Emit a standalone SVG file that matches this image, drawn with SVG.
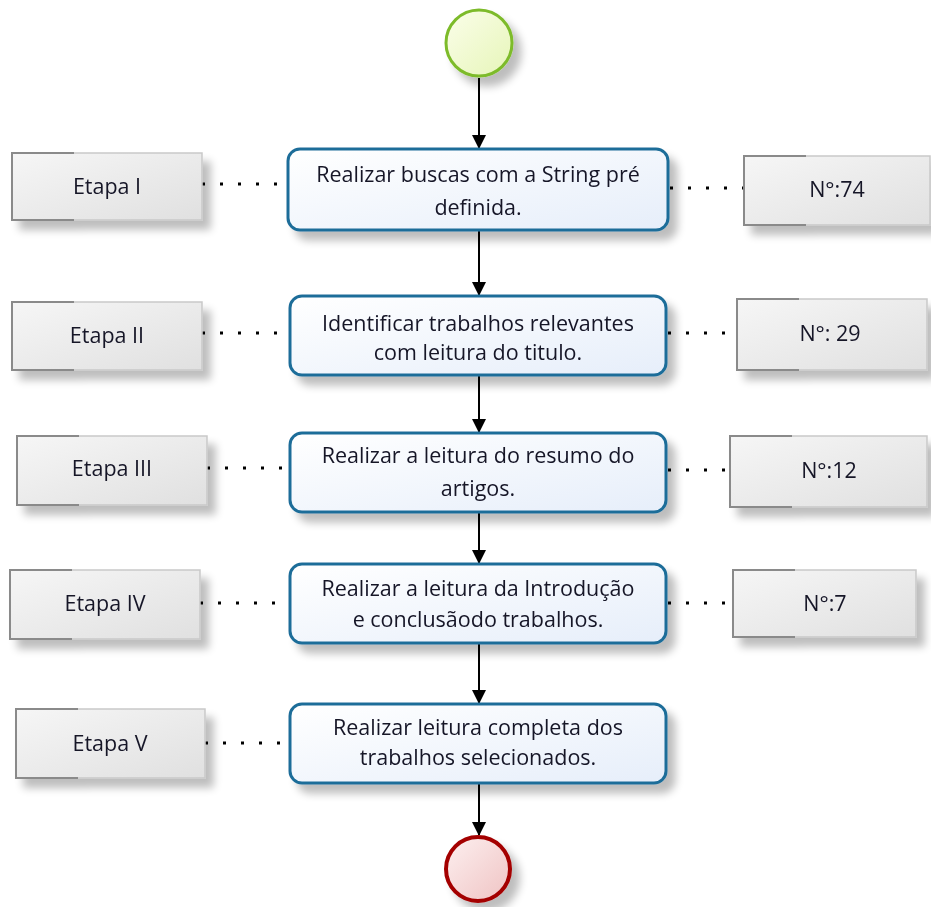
<svg xmlns="http://www.w3.org/2000/svg" width="931" height="907" viewBox="0 0 931 907">
<defs>
  <linearGradient id="gTask" x1="0" y1="0" x2="1" y2="1">
    <stop offset="0" stop-color="#ffffff"/>
    <stop offset="1" stop-color="#e6eefa"/>
  </linearGradient>
  <linearGradient id="gAnn" x1="0" y1="0" x2="1" y2="1">
    <stop offset="0" stop-color="#f6f6f6"/>
    <stop offset="1" stop-color="#e0e0e0"/>
  </linearGradient>
  <linearGradient id="gStart" x1="0" y1="0" x2="1" y2="1">
    <stop offset="0" stop-color="#fbfeea"/>
    <stop offset="1" stop-color="#e6f5b8"/>
  </linearGradient>
  <linearGradient id="gEnd" x1="0" y1="0" x2="1" y2="1">
    <stop offset="0" stop-color="#fdf0f0"/>
    <stop offset="1" stop-color="#efc3c3"/>
  </linearGradient>
  <filter id="shadow" x="-20%" y="-20%" width="150%" height="160%">
    <feGaussianBlur in="SourceAlpha" stdDeviation="4"/>
    <feOffset dx="8" dy="9" result="b"/>
    <feComponentTransfer><feFuncA type="linear" slope="0.26"/></feComponentTransfer>
    <feMerge><feMergeNode/><feMergeNode in="SourceGraphic"/></feMerge>
  </filter>
  <marker id="arrow" viewBox="0 0 14 14" refX="13" refY="7" markerWidth="14" markerHeight="14" markerUnits="userSpaceOnUse" orient="auto">
    <path d="M0,0 L14,7 L0,14 Z" fill="#000"/>
  </marker>
</defs>
<style>
  .task rect { fill: url(#gTask); stroke: #1f6d99; stroke-width: 3; }
  .ann rect { fill: url(#gAnn); stroke: #c9c9c9; stroke-width: 1.5; }
  .ann path { fill: none; stroke: #8a8a8a; stroke-width: 2; }
  text { font-family: "Open Sans", "Noto Sans", "DejaVu Sans", sans-serif; font-size: 21.5px; fill: #161628; text-anchor: middle; }
  .flow { stroke: #000; stroke-width: 2; fill: none; marker-end: url(#arrow); }
  .dot { stroke: #000; stroke-width: 3; stroke-dasharray: 3 15; fill: none; }
</style>

<g id="connectors">
  <line class="flow" x1="479" y1="78" x2="479" y2="148"/>
  <line class="flow" x1="479" y1="231" x2="479" y2="295"/>
  <line class="flow" x1="479" y1="376" x2="479" y2="432"/>
  <line class="flow" x1="479" y1="513" x2="479" y2="563"/>
  <line class="flow" x1="479" y1="644" x2="479" y2="703"/>
  <line class="flow" x1="479" y1="784" x2="479" y2="835"/>
  <line class="dot" x1="202" y1="184" x2="287" y2="184"/>
  <line class="dot" x1="670" y1="188" x2="743" y2="188"/>
  <line class="dot" x1="202" y1="333" x2="289" y2="333"/>
  <line class="dot" x1="668" y1="333" x2="737" y2="333"/>
  <line class="dot" x1="207" y1="468" x2="289" y2="468"/>
  <line class="dot" x1="668" y1="470" x2="730" y2="470"/>
  <line class="dot" x1="200" y1="603" x2="289" y2="603"/>
  <line class="dot" x1="668" y1="603" x2="733" y2="603"/>
  <line class="dot" x1="205" y1="743" x2="289" y2="743"/>
</g>

<g id="start" filter="url(#shadow)">
  <circle cx="479" cy="43" r="33" fill="url(#gStart)" stroke="#7dbb2a" stroke-width="3"/>
</g>
<g id="end" filter="url(#shadow)">
  <circle cx="478" cy="869" r="32" fill="url(#gEnd)" stroke="#a40000" stroke-width="4"/>
</g>

<g id="task1" class="task" filter="url(#shadow)">
  <rect x="288" y="149" width="380" height="81" rx="12"/>
  <text x="478" y="182">Realizar buscas com a String pré</text>
  <text x="478" y="215">definida.</text>
</g>
<g id="task2" class="task" filter="url(#shadow)">
  <rect x="290" y="296" width="376" height="79" rx="12"/>
  <text x="478" y="331">Identificar trabalhos relevantes</text>
  <text x="478" y="360">com leitura do titulo.</text>
</g>
<g id="task3" class="task" filter="url(#shadow)">
  <rect x="290" y="433" width="376" height="79" rx="12"/>
  <text x="478" y="463">Realizar a leitura do resumo do</text>
  <text x="478" y="496">artigos.</text>
</g>
<g id="task4" class="task" filter="url(#shadow)">
  <rect x="290" y="564" width="376" height="79" rx="12"/>
  <text x="478" y="596">Realizar a leitura da Introdução</text>
  <text x="478" y="627">e conclusãodo trabalhos.</text>
</g>
<g id="task5" class="task" filter="url(#shadow)">
  <rect x="290" y="704" width="376" height="79" rx="12"/>
  <text x="478" y="735">Realizar leitura completa dos</text>
  <text x="478" y="765">trabalhos selecionados.</text>
</g>

<g id="etapa1" class="ann" filter="url(#shadow)">
  <rect x="12" y="153" width="190" height="67"/>
  <path d="M74,153 H12 V220 H74"/>
  <text x="107" y="194">Etapa I</text>
</g>
<g id="etapa2" class="ann" filter="url(#shadow)">
  <rect x="12" y="302" width="190" height="68"/>
  <path d="M74,302 H12 V370 H74"/>
  <text x="107" y="343">Etapa II</text>
</g>
<g id="etapa3" class="ann" filter="url(#shadow)">
  <rect x="17" y="436" width="190" height="69"/>
  <path d="M79,436 H17 V505 H79"/>
  <text x="112" y="476">Etapa III</text>
</g>
<g id="etapa4" class="ann" filter="url(#shadow)">
  <rect x="10" y="570" width="190" height="69"/>
  <path d="M72,570 H10 V639 H72"/>
  <text x="105" y="611">Etapa IV</text>
</g>
<g id="etapa5" class="ann" filter="url(#shadow)">
  <rect x="16" y="709" width="189" height="69"/>
  <path d="M78,709 H16 V778 H78"/>
  <text x="110" y="751">Etapa V</text>
</g>

<g id="n1" class="ann" filter="url(#shadow)">
  <rect x="744" y="156" width="186" height="69"/>
  <path d="M806,156 H744 V225 H806"/>
  <text x="837" y="197">N°:74</text>
</g>
<g id="n2" class="ann" filter="url(#shadow)">
  <rect x="737" y="299" width="190" height="71"/>
  <path d="M799,299 H737 V370 H799"/>
  <text x="830" y="341">N°: 29</text>
</g>
<g id="n3" class="ann" filter="url(#shadow)">
  <rect x="730" y="436" width="197" height="71"/>
  <path d="M792,436 H730 V507 H792"/>
  <text x="829" y="478">N°:12</text>
</g>
<g id="n4" class="ann" filter="url(#shadow)">
  <rect x="733" y="570" width="183" height="67"/>
  <path d="M795,570 H733 V637 H795"/>
  <text x="825" y="611">N°:7</text>
</g>
</svg>
